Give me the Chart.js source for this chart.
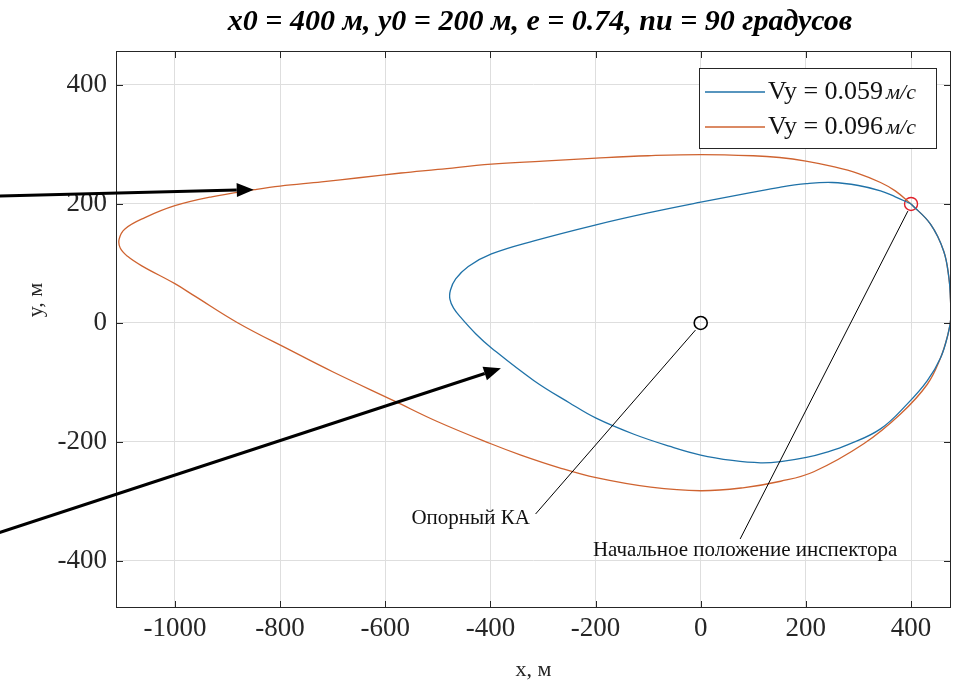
<!DOCTYPE html>
<html>
<head>
<meta charset="utf-8">
<script src="https://cdn.jsdelivr.net/npm/chart.js@4.4.1/dist/chart.umd.min.js"></script>
<style>
  html, body { margin: 0; padding: 0; background: #fff; }
  #wrap { width: 963px; height: 680px; }
</style>
</head>
<body>
<div id="wrap"><canvas id="orbitChart" width="963" height="680"></canvas></div>
<script>
// Axis settings
const xTicks = [-1000, -800, -600, -400, -200, 0, 200, 400];
const yTicks = [-400, -200, 0, 200, 400];
const xRange = [-1112, 476];
const yRange = [-479, 457];

// Trajectory for Vy = 0.059 m/s
const slowX = [400, 370, 342, 300, 250, 201, 150, 95, 0, -100, -199, -317, -398, -442, -466, -476, -477, -470, -455, -428,
  -398, -317, -250, -199, -127, -60, 0, 60, 114, 152, 201, 240, 279, 342, 393, 431, 456, 470, 476, 475, 472, 462, 437, 400];
const slowY = [200, 212, 222, 231, 236, 234, 228, 219, 203, 185, 165, 138, 116, 95, 74, 55, 40, 25, 8, -18,
  -42, -97, -134, -160, -187, -207, -222, -231, -235, -233, -226, -217, -205, -178, -136, -97, -59, -20, 10, 40, 76, 121, 166, 200];

// Trajectory for Vy = 0.096 m/s
const fastX = [400, 370, 342, 300, 250, 200, 150, 100, 0, -100, -199, -300, -398, -500, -570, -650, -721, -800, -848, -930,
  -1000, -1057, -1095, -1106, -1104, -1090, -1063, -1000, -962, -880, -778, -700, -583, -500, -399, -342, -270, -199, -95, 0,
  80, 152, 215, 310, 380, 431, 456, 470, 476, 475, 472, 462, 437, 400];
const fastY = [200, 222, 236, 251, 263, 272, 278, 281, 283, 281, 277, 272, 267, 258, 252, 244, 237, 230, 224, 212,
  197, 177, 158, 141, 126, 112, 96, 66, 45, 0, -47, -82, -131, -166, -203, -222, -243, -260, -276, -282,
  -277, -266, -250, -203, -153, -103, -59, -20, 10, 40, 76, 121, 166, 200];

const seriesLabels = ['Vy = 0.059', 'Vy = 0.096'];
const unitLabel = 'м/с';
const seriesColors = ['#1f72a8', '#cf6330'];

const refPoint = [0, 0];         // reference spacecraft
const inspectorPoint = [400, 200];

const titleText = 'x0 = 400 м, y0 = 200 м, e = 0.74, nu = 90 градусов';
const xTitle = 'x, м';
const yTitle = 'y, м';

// Callouts, in data units
const refLabel = 'Опорный КА';
const refLabelAt = [-325, -328];
const refLeader = [[-314, -321], [-10, -12]];
const inspLabel = 'Начальное положение инспектора';
const inspLabelAt = [-205, -383];
const inspLeader = [[75, -363], [394, 188]];
const arrowFast = [[-1340, 213], [-850, 224]];
const arrowSlow = [[-1340, -354], [-380, -76]];

const axisColor = '#262626';
const serif = '"Liberation Serif", "Times New Roman", serif';

function toPoints(xs, ys) {
  return xs.map((x, i) => ({ x: x, y: ys[i] }));
}

function drawArrow(ctx, x0, y0, x1, y1) {
  const ang = Math.atan2(y1 - y0, x1 - x0);
  const headLen = 17, headHalf = 7;
  const bx = x1 - headLen * Math.cos(ang);
  const by = y1 - headLen * Math.sin(ang);
  ctx.save();
  ctx.strokeStyle = '#000';
  ctx.fillStyle = '#000';
  ctx.lineWidth = 3;
  ctx.beginPath();
  ctx.moveTo(x0, y0);
  ctx.lineTo(bx, by);
  ctx.stroke();
  ctx.beginPath();
  ctx.moveTo(x1, y1);
  ctx.lineTo(bx + headHalf * Math.sin(ang), by - headHalf * Math.cos(ang));
  ctx.lineTo(bx - headHalf * Math.sin(ang), by + headHalf * Math.cos(ang));
  ctx.closePath();
  ctx.fill();
  ctx.restore();
}

// Box, inner ticks, callouts, legend, titles
const decorPlugin = {
  id: 'decor',
  afterDatasetsDraw(chart) {
    const ctx = chart.ctx;
    const sx = chart.scales.x, sy = chart.scales.y;
    const px = v => sx.getPixelForValue(v);
    const py = v => sy.getPixelForValue(v);

    // leader lines
    ctx.save();
    ctx.strokeStyle = '#000';
    ctx.lineWidth = 1;
    [refLeader, inspLeader].forEach(l => {
      ctx.beginPath();
      ctx.moveTo(px(l[0][0]), py(l[0][1]));
      ctx.lineTo(px(l[1][0]), py(l[1][1]));
      ctx.stroke();
    });
    ctx.fillStyle = '#111';
    ctx.font = '21px ' + serif;
    ctx.textBaseline = 'middle';
    ctx.textAlign = 'right';
    ctx.fillText(refLabel, px(refLabelAt[0]), py(refLabelAt[1]));
    ctx.textAlign = 'left';
    ctx.fillText(inspLabel, px(inspLabelAt[0]), py(inspLabelAt[1]));
    ctx.restore();
  },
  afterDraw(chart) {
    const ctx = chart.ctx;
    const a = chart.chartArea;
    const sx = chart.scales.x, sy = chart.scales.y;
    const px = v => sx.getPixelForValue(v);
    const py = v => sy.getPixelForValue(v);

    // box and inward ticks
    ctx.save();
    ctx.strokeStyle = axisColor;
    ctx.lineWidth = 1;
    ctx.strokeRect(a.left + 0.5, a.top + 0.5, a.right - a.left - 1, a.bottom - a.top - 1);
    const tl = 7;
    ctx.beginPath();
    xTicks.forEach(v => {
      const x = Math.round(px(v)) + 0.5;
      ctx.moveTo(x, a.bottom); ctx.lineTo(x, a.bottom - tl);
      ctx.moveTo(x, a.top); ctx.lineTo(x, a.top + tl);
    });
    yTicks.forEach(v => {
      const y = Math.round(py(v)) + 0.5;
      ctx.moveTo(a.left, y); ctx.lineTo(a.left + tl, y);
      ctx.moveTo(a.right, y); ctx.lineTo(a.right - tl, y);
    });
    ctx.stroke();
    ctx.restore();

    // legend
    const lg = { left: 699, top: 68, right: 936, bottom: 148 };
    ctx.save();
    ctx.fillStyle = '#fff';
    ctx.fillRect(lg.left, lg.top, lg.right - lg.left, lg.bottom - lg.top);
    ctx.strokeStyle = axisColor;
    ctx.lineWidth = 1;
    ctx.strokeRect(lg.left + 0.5, lg.top + 0.5, lg.right - lg.left, lg.bottom - lg.top);
    seriesLabels.forEach((lab, i) => {
      const y = lg.top + 24 + i * 35;
      ctx.strokeStyle = seriesColors[i];
      ctx.lineWidth = 1.3;
      ctx.beginPath();
      ctx.moveTo(lg.left + 6, y);
      ctx.lineTo(lg.left + 66, y);
      ctx.stroke();
      ctx.fillStyle = '#111';
      ctx.textBaseline = 'middle';
      ctx.textAlign = 'left';
      ctx.font = '26px ' + serif;
      ctx.fillText(lab, lg.left + 69, y);
      const w = ctx.measureText(lab).width;
      ctx.font = 'italic 22px ' + serif;
      ctx.fillText(unitLabel, lg.left + 72 + w, y + 1);
    });
    ctx.restore();

    // title
    ctx.save();
    ctx.fillStyle = '#000';
    ctx.font = 'italic bold 30px ' + serif;
    ctx.textAlign = 'center';
    ctx.textBaseline = 'middle';
    ctx.fillText(titleText, 540, 22);

    // axis titles
    ctx.fillStyle = axisColor;
    ctx.font = '22px ' + serif;
    ctx.fillText(xTitle, (a.left + a.right) / 2, 670);
    ctx.translate(36, 300);
    ctx.rotate(-Math.PI / 2);
    ctx.fillText(yTitle, 0, 0);
    ctx.restore();

    // arrows
    drawArrow(ctx, px(arrowFast[0][0]), py(arrowFast[0][1]), px(arrowFast[1][0]), py(arrowFast[1][1]));
    drawArrow(ctx, px(arrowSlow[0][0]), py(arrowSlow[0][1]), px(arrowSlow[1][0]), py(arrowSlow[1][1]));
  }
};

const ctx = document.getElementById('orbitChart').getContext('2d');
const orbitChart = new Chart(ctx, {
  type: 'scatter',
  data: {
    datasets: [
      {
        label: seriesLabels[0],
        data: toPoints(slowX, slowY),
        showLine: true,
        borderColor: seriesColors[0],
        borderWidth: 1.3,
        pointRadius: 0,
        tension: 0.4
      },
      {
        label: seriesLabels[1],
        data: toPoints(fastX, fastY),
        showLine: true,
        borderColor: seriesColors[1],
        borderWidth: 1.3,
        pointRadius: 0,
        tension: 0.4
      },
      {
        label: 'ref',
        data: [{ x: refPoint[0], y: refPoint[1] }],
        pointRadius: 6.5,
        pointBorderWidth: 1.6,
        borderColor: '#000',
        backgroundColor: 'rgba(0,0,0,0)'
      },
      {
        label: 'inspector',
        data: [{ x: inspectorPoint[0], y: inspectorPoint[1] }],
        pointRadius: 6.5,
        pointBorderWidth: 1.4,
        borderColor: '#e0202a',
        backgroundColor: 'rgba(0,0,0,0)'
      }
    ]
  },
  options: {
    responsive: false,
    animation: false,
    events: [],
    layout: { padding: { top: 51, right: 12, left: 0, bottom: 0 } },
    plugins: {
      legend: { display: false },
      title: { display: false },
      tooltip: { enabled: false }
    },
    scales: {
      x: {
        type: 'linear',
        min: xRange[0],
        max: xRange[1],
        afterBuildTicks: s => { s.ticks = xTicks.map(v => ({ value: v })); },
        afterFit: s => { s.height = 72; },
        ticks: {
          font: { family: serif, size: 27 },
          color: axisColor,
          padding: 5,
          maxRotation: 0,
          autoSkip: false,
          callback: v => String(v)
        },
        grid: { color: '#dedede', drawTicks: false },
        border: { display: false }
      },
      y: {
        type: 'linear',
        min: yRange[0],
        max: yRange[1],
        afterBuildTicks: s => { s.ticks = yTicks.map(v => ({ value: v })); },
        afterFit: s => { s.width = 116; },
        ticks: {
          font: { family: serif, size: 27 },
          color: axisColor,
          padding: 9,
          autoSkip: false,
          callback: v => String(v)
        },
        grid: { color: '#dedede', drawTicks: false },
        border: { display: false }
      }
    }
  },
  plugins: [decorPlugin]
});
</script>
</body>
</html>
